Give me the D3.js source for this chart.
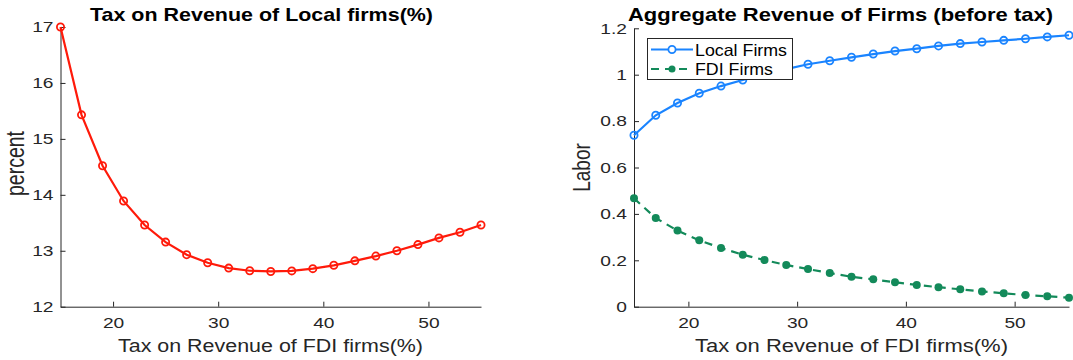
<!DOCTYPE html>
<html><head><meta charset="utf-8">
<script src="https://cdn.jsdelivr.net/npm/d3@7"></script>
<style>
body{margin:0;background:#fff;}
svg{display:block;font-family:"Liberation Sans",Arial,sans-serif;}
</style></head>
<body><svg id="c" width="1073" height="360"></svg>
<script>
const taxFDI = [15,17,19,21,23,25,27,29,31,33,35,37,39,41,43,45,47,49,51,53,55];
const localTax = [17.0,15.43,14.52,13.89,13.46,13.155,12.93,12.786,12.69,12.643,12.63,12.64,12.68,12.74,12.82,12.905,13.0,13.11,13.23,13.33,13.46];
const localRevenue = [0.739,0.825,0.878,0.920,0.951,0.977,1.001,1.024,1.045,1.060,1.075,1.089,1.102,1.112,1.124,1.134,1.141,1.148,1.155,1.163,1.170];
const fdiRevenue = [0.467,0.382,0.328,0.286,0.253,0.224,0.201,0.180,0.162,0.145,0.129,0.118,0.105,0.094,0.084,0.075,0.066,0.058,0.050,0.045,0.039];
const xTicks = [20,30,40,50];
const leftYTicks = [12,13,14,15,16,17];
const rightYTicks = [0,0.2,0.4,0.6,0.8,1,1.2];
const leftTitle = "Tax on Revenue of Local firms(%)";
const rightTitle = "Aggregate Revenue of Firms (before tax)";
const xLabel = "Tax on Revenue of FDI firms(%)";
const seriesNames = ["Local Firms","FDI Firms"];

const svg = d3.select("#c");
const axisCol = "#262626";
const RED = "#ff1a0a", BLUE = "#1a84ff", GREEN = "#138a5a";
const SX = 1.28; // horizontal stretch of the reference's text

function stretchTicks(a, isY){
  a.selectAll(".tick text").each(function(){
    const t = d3.select(this);
    if(isY){
      const xv = +t.attr("x");
      t.attr("x",0).attr("transform",`translate(${xv},0) scale(${SX},1)`);
    } else {
      t.attr("transform",`scale(${SX},1)`);
    }
  });
}

function panel(opts){
  const g = svg.append("g");
  const x = d3.scaleLinear().domain([15,55]).range([opts.x0, opts.x1]);
  const y = d3.scaleLinear().domain(opts.yDom).range([opts.yb, opts.yt]);
  const xa = g.append("g").attr("transform",`translate(0,${opts.yb})`)
    .call(d3.axisBottom(x).tickValues(xTicks).tickSizeInner(-5).tickSizeOuter(0).tickPadding(11).tickFormat(d3.format("d")));
  const ya = g.append("g").attr("transform",`translate(${opts.x0},0)`)
    .call(d3.axisLeft(y).tickValues(opts.yTicks).tickSizeInner(-5).tickSizeOuter(0).tickPadding(7).tickFormat(d=>String(d)));
  [xa,ya].forEach(a=>{
    a.selectAll("path").attr("stroke",axisCol).attr("stroke-width",1);
    a.selectAll("line").attr("stroke",axisCol);
    a.selectAll("text").attr("fill",axisCol).style("font-size","15px");
  });
  stretchTicks(xa,false); stretchTicks(ya,true);
  g.append("text").attr("x",opts.tcx).attr("y",21).attr("text-anchor","middle")
    .attr("textLength",opts.tlen).attr("lengthAdjust","spacingAndGlyphs")
    .style("font-weight","bold").style("font-size","19px").attr("fill","#000").text(opts.title);
  g.append("text").attr("x",opts.xlcx).attr("y",352).attr("text-anchor","middle")
    .attr("textLength",opts.xllen).attr("lengthAdjust","spacingAndGlyphs")
    .style("font-size","17.5px").attr("fill",axisCol).text(xLabel);
  g.append("text").attr("transform",`translate(${opts.ylx},${opts.ylcy}) scale(${SX},1) rotate(-90)`).attr("text-anchor","middle")
    .style("font-size",opts.ylfs+"px").attr("fill",axisCol).text(opts.ylabel);
  return {g,x,y};
}

// Left panel
const L = panel({x0:60.5,x1:481,yt:27,yb:306.7,yDom:[12,17],yTicks:leftYTicks,title:leftTitle,
  tcx:261.5,tlen:343,xlcx:270.5,xllen:305,ylabel:"percent",ylx:24,ylcy:163.5,ylfs:19.5});
const lineL = d3.line().x((d,i)=>L.x(taxFDI[i])).y(d=>L.y(d));
L.g.append("path").datum(localTax).attr("d",lineL).attr("fill","none").attr("stroke",RED).attr("stroke-width",2.2);
L.g.selectAll("circle.m").data(localTax).enter().append("circle")
  .attr("cx",(d,i)=>L.x(taxFDI[i])).attr("cy",d=>L.y(d)).attr("r",3.6)
  .attr("fill","none").attr("stroke",RED).attr("stroke-width",1.8);

// Right panel
const R = panel({x0:634,x1:1069,yt:28.3,yb:306.7,yDom:[0,1.2],yTicks:rightYTicks,title:rightTitle,
  tcx:840.5,tlen:425,xlcx:851.5,xllen:313,ylabel:"Labor",ylx:590,ylcy:167.5,ylfs:19});
const lineR = d3.line().x((d,i)=>R.x(taxFDI[i])).y(d=>R.y(d));
R.g.append("path").datum(localRevenue).attr("d",lineR).attr("fill","none").attr("stroke",BLUE).attr("stroke-width",2.2);
R.g.selectAll("circle.b").data(localRevenue).enter().append("circle")
  .attr("cx",(d,i)=>R.x(taxFDI[i])).attr("cy",d=>R.y(d)).attr("r",3.6)
  .attr("fill","none").attr("stroke",BLUE).attr("stroke-width",1.8);
R.g.append("path").datum(fdiRevenue).attr("d",lineR).attr("fill","none").attr("stroke",GREEN).attr("stroke-width",2.2).attr("stroke-dasharray","8,6");
R.g.selectAll("circle.g").data(fdiRevenue).enter().append("circle")
  .attr("cx",(d,i)=>R.x(taxFDI[i])).attr("cy",d=>R.y(d)).attr("r",4)
  .attr("fill",GREEN);

// Legend
const lg = svg.append("g");
lg.append("rect").attr("x",647.5).attr("y",38.5).attr("width",145).attr("height",41).attr("fill","#fff").attr("stroke",axisCol).attr("stroke-width",1);
const items = [{n:seriesNames[0],c:BLUE,dash:null,fill:false,len:92},{n:seriesNames[1],c:GREEN,dash:"8,6",fill:true,len:78}];
items.forEach((it,i)=>{
  const yy = 49.5 + i*19.5;
  lg.append("line").attr("x1",651).attr("x2",693).attr("y1",yy).attr("y2",yy).attr("stroke",it.c).attr("stroke-width",2)
    .attr("stroke-dasharray",it.dash);
  lg.append("circle").attr("cx",672).attr("cy",yy).attr("r",it.fill?3.5:3.6)
    .attr("fill",it.fill?it.c:"#fff").attr("stroke",it.fill?"none":it.c).attr("stroke-width",1.8);
  lg.append("text").attr("x",695).attr("y",yy+6).attr("textLength",it.len).attr("lengthAdjust","spacingAndGlyphs")
    .style("font-size","16.5px").attr("fill","#000").text(it.n);
});
</script></body></html>
